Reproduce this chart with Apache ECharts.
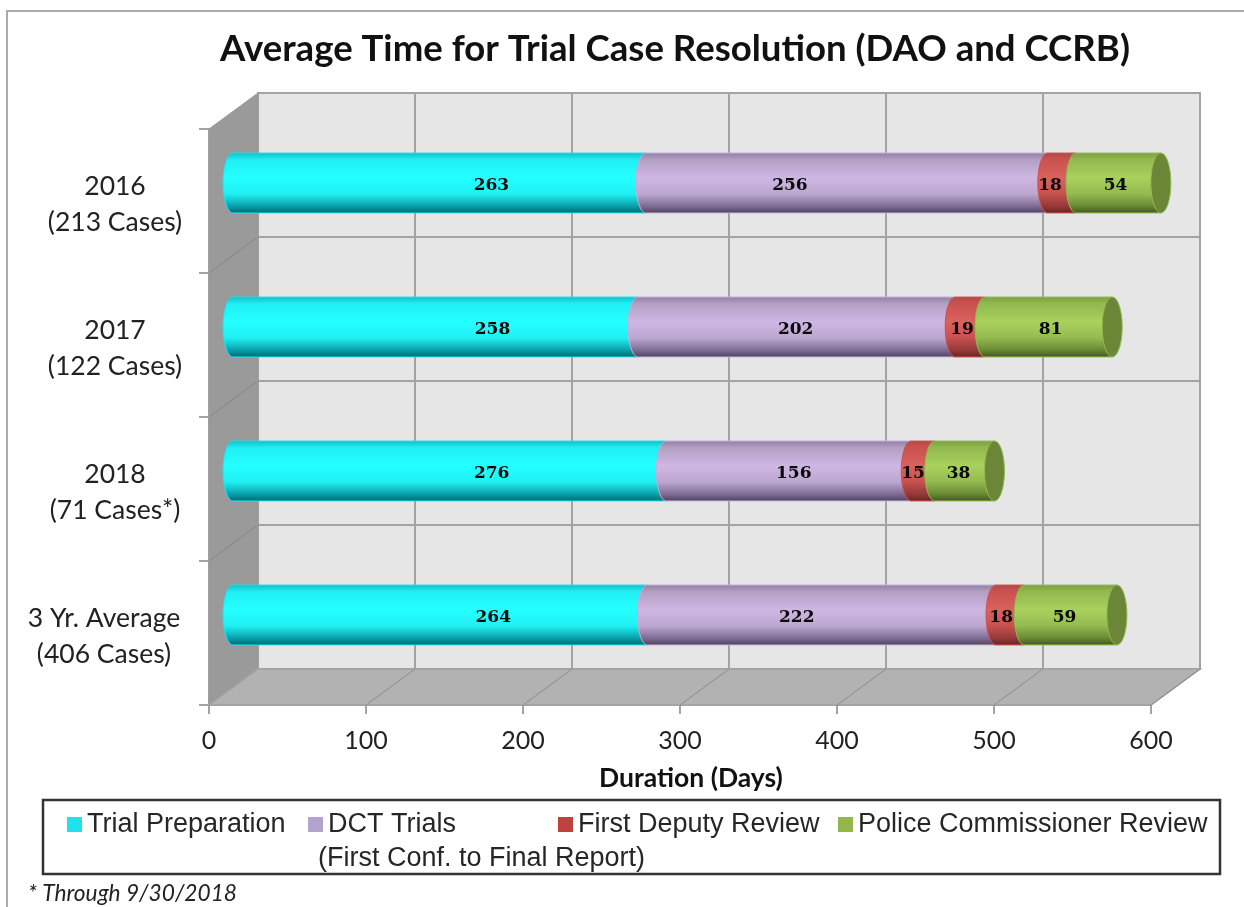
<!DOCTYPE html>
<html><head><meta charset="utf-8">
<style>html,body{margin:0;padding:0;background:#fff}#main{width:1244px;height:907px;filter:blur(0.7px)}</style>
<script src="https://cdn.jsdelivr.net/npm/echarts@6/dist/echarts.min.js"></script>
</head><body><div id="main"></div>
<script>
const categories = ['2016\n(213 Cases)', '2017\n(122 Cases)', '2018\n(71 Cases*)', '3 Yr. Average\n(406 Cases)'];
const trialPreparation = [263, 258, 276, 264];
const dctTrials = [256, 202, 156, 222];
const firstDeputyReview = [18, 19, 15, 18];
const policeCommissionerReview = [54, 81, 38, 59];
const seriesNames = ['Trial Preparation', 'DCT Trials', 'First Deputy Review', 'Police Commissioner Review'];
const xTicks = [0, 100, 200, 300, 400, 500, 600];

// styling only: hand-placed data label nudges in the source chart (px, per series per row)
const labelNudge = [[52, 57, 42, 53], [-57, -1, 5, -25], [-12, -8, -10, -9], [-3, 2, -6, -6]];
const depth = [49, -36];
const capRx = 10;
const palette = [
  {stroke:'#17e6ec', stops:['#0fbcc6','#1ff0f5','#25ffff','#20f0f4','#0aa0aa','#04646c']},
  {stroke:'#c4aedb', stops:['#8f7f9e','#b3a0c4','#cfb7e4','#bca7cf','#7f6c94','#4e4059']},
  {stroke:'#c9524e', stops:['#b34a46','#c9534f','#da625d','#c6524e','#96383a','#6a2220']},
  {stroke:'#95bb50', stops:['#7d9c45','#93b94f','#a8d25d','#93ba50','#6a8934','#3f5519']}
];
const legendColors = ['#1fe3ea', '#b4a3cc', '#c0423f', '#93b84a'];
const stops = [0, 0.12, 0.42, 0.68, 0.88, 1];

const allSeries = [trialPreparation, dctTrials, firstDeputyReview, policeCommissionerReview];

function arc(cx, cy, ry, a0, a1, n) {
  const p = [];
  for (let i = 0; i <= n; i++) {
    const a = a0 + (a1 - a0) * i / n;
    p.push([cx + capRx * Math.cos(a), cy + ry * Math.sin(a)]);
  }
  return p;
}

function cylinderItem(sIdx) {
  return function (params, api) {
    const start = api.coord([api.value(0), api.value(1)]);
    const end = api.coord([api.value(2), api.value(1)]);
    const band = api.size([0, 1])[1];
    const ry = band * 0.208;
    const cy = start[1];
    const pal = palette[sIdx];
    const fill = {type:'linear', x:0, y:0, x2:0, y2:1,
      colorStops: pal.stops.map((c, i) => ({offset: stops[i], color: c}))};
    const pts = [[end[0], cy - ry], [start[0], cy - ry]]
      .concat(arc(start[0], cy, ry, -Math.PI / 2, -3 * Math.PI / 2, 24))
      .concat([[end[0], cy + ry]]);
    const children = [{type:'polygon', shape:{points: pts},
      style:{fill, stroke: pal.stroke, lineWidth: 1}}];
    if (sIdx === allSeries.length - 1) {
      children.push({type:'ellipse', shape:{cx:end[0], cy, rx:capRx, ry},
        style:{fill:'#6b8636', stroke: pal.stroke, lineWidth: 1}});
    }
    const nudge = labelNudge[sIdx][params.dataIndex];
    children.push({type:'text', z2: 5, style:{
      text: String(api.value(3)), x: (start[0] + end[0]) / 2 + nudge, y: cy + 3,
      align:'center', verticalAlign:'middle',
      font:'bold 17px "DejaVu Serif"', fill:'#0a0a0a'}});
    return {type:'group', children};
  };
}

function wallsItem(params, api) {
  const band = api.size([0, 1])[1];
  const left = api.coord([xTicks[0], 0])[0];
  const right = api.coord([xTicks[xTicks.length - 1], 0])[0];
  const top = api.coord([0, 0])[1] - band / 2;
  const bottom = top + band * categories.length;
  const [dx, dy] = depth;
  const line = '#a3a3a3';
  const kids = [];
  kids.push({type:'polygon', shape:{points:[[left+dx,top+dy],[right+dx,top+dy],[right+dx,bottom+dy],[left+dx,bottom+dy]]},
    style:{fill:'#e6e6e6', stroke:line, lineWidth:2}});
  kids.push({type:'polygon', shape:{points:[[left,top],[left+dx,top+dy],[left+dx,bottom+dy],[left,bottom]]},
    style:{fill:'#9a9a9a', stroke:'#9a9a9a', lineWidth:1}});
  kids.push({type:'polygon', shape:{points:[[left,bottom],[left+dx,bottom+dy],[right+dx,bottom+dy],[right,bottom]]},
    style:{fill:'#b2b2b2', stroke:line, lineWidth:1.5}});
  xTicks.forEach((t, i) => {
    const x = api.coord([t, 0])[0];
    if (i > 0 && i < xTicks.length - 1) {
      kids.push({type:'line', shape:{x1:x+dx, y1:top+dy, x2:x+dx, y2:bottom+dy}, style:{stroke:line, lineWidth:2}});
    }
    if (i > 0) {
      kids.push({type:'line', shape:{x1:x, y1:bottom, x2:x+dx, y2:bottom+dy}, style:{stroke:'#8c8c8c', lineWidth:1}});
    }
  });
  for (let i = 1; i < categories.length; i++) {
    const y = top + band * i;
    kids.push({type:'line', shape:{x1:left+dx, y1:y+dy, x2:right+dx, y2:y+dy}, style:{stroke:line, lineWidth:2}});
    kids.push({type:'line', shape:{x1:left, y1:y, x2:left+dx, y2:y+dy}, style:{stroke:'#858585', lineWidth:1}});
  }
  return {type:'group', children:kids};
}

let running = categories.map(() => 0);
const cylinders = allSeries.map((vals, s) => {
  const data = vals.map((v, i) => { const a = running[i]; running[i] += v; return [a, i, a + v, v]; });
  return {type:'custom', name: seriesNames[s], xAxisIndex:1, yAxisIndex:1, clip:false, z:3+s,
    itemStyle:{color: legendColors[s]}, renderItem: cylinderItem(s),
    encode:{x:[0,2], y:1}, data};
});

function legendAt(i, left) {
  return {show:true, left, top:811, padding:0, orient:'horizontal', itemWidth:15, itemHeight:15, itemGap:0,
    selectedMode:false, icon:'rect',
    textStyle:{fontFamily:'Liberation Sans', fontSize:27, color:'#262626'},
    data:[{name: seriesNames[i], icon:'rect'}]};
}

const option = {
  animation:false,
  backgroundColor:'#fff',
  title:{text:'Average Time for Trial Case Resolution (DAO and CCRB)', left:670, top:26, textAlign:'center',
    textStyle:{fontFamily:'Lato', fontWeight:'bold', fontSize:36.6, color:'#111'}},
  grid:[
    {left:209, right:93, top:129, height:576, containLabel:false},
    {left:233, right:69, top:111, height:576, containLabel:false}
  ],
  xAxis:[
    {type:'value', gridIndex:0, min:0, max:600, interval:100,
     name:'Duration (Days)', nameLocation:'middle', nameGap:60,
     nameTextStyle:{fontFamily:'Lato', fontWeight:'bold', fontSize:26.5, color:'#111', padding:[0,0,0,22]},
     axisLine:{show:true, lineStyle:{color:'#a3a3a3', width:2}},
     axisTick:{show:true, length:9, lineStyle:{color:'#a3a3a3', width:2}},
     axisLabel:{fontFamily:'Lato', fontSize:25, color:'#222', margin:23},
     splitLine:{show:false}},
    {type:'value', gridIndex:1, min:0, max:600, interval:100, show:false}
  ],
  yAxis:[
    {type:'category', gridIndex:0, inverse:true, data:categories,
     axisLine:{show:true, lineStyle:{color:'#a3a3a3', width:2}},
     axisTick:{show:true, length:10, alignWithLabel:false, lineStyle:{color:'#a3a3a3', width:2}},
     axisLabel:{fontFamily:'Lato', fontSize:26.5, color:'#222', lineHeight:36, align:'center', margin:94, interval:0,
       padding:[6,0,0,0],
       formatter:(v, i) => i === categories.length - 1 ? v.split('\n').map(l => '{shift|' + l + '}').join('\n') : v,
       rich:{shift:{fontFamily:'Lato', fontSize:26.5, color:'#222', lineHeight:36, padding:[0,22,0,0]}}},
     splitLine:{show:false}},
    {type:'category', gridIndex:1, inverse:true, data:categories, show:false}
  ],
  legend:[legendAt(0, 67), legendAt(1, 308), legendAt(2, 558), legendAt(3, 838)],
  series:[
    {type:'custom', name:'walls', xAxisIndex:0, yAxisIndex:0, clip:false, silent:true, z:1,
     renderItem:wallsItem, encode:{x:0, y:1}, data:[[0,0]]}
  ].concat(cylinders),
  graphic:[
    {type:'polyline', shape:{points:[[7,907],[7,11],[1244,11]]}, style:{stroke:'#ababab', fill:null, lineWidth:2}, silent:true},
    {type:'rect', shape:{x:43, y:800, width:1177, height:74}, style:{fill:null, stroke:'#333', lineWidth:2.5}, silent:true, z:0},
    {type:'text', left:318, top:845, style:{text:'(First Conf. to Final Report)', font:'27px "Liberation Sans"', fill:'#262626'}},
    {type:'text', left:28, top:882, style:{text:'* Through 9/30/2018', font:'italic 22.7px Lato', fill:'#222'}}
  ]
};
const chart = echarts.init(document.getElementById('main'), null, {renderer:'canvas'});
chart.setOption(option);
</script></body></html>
